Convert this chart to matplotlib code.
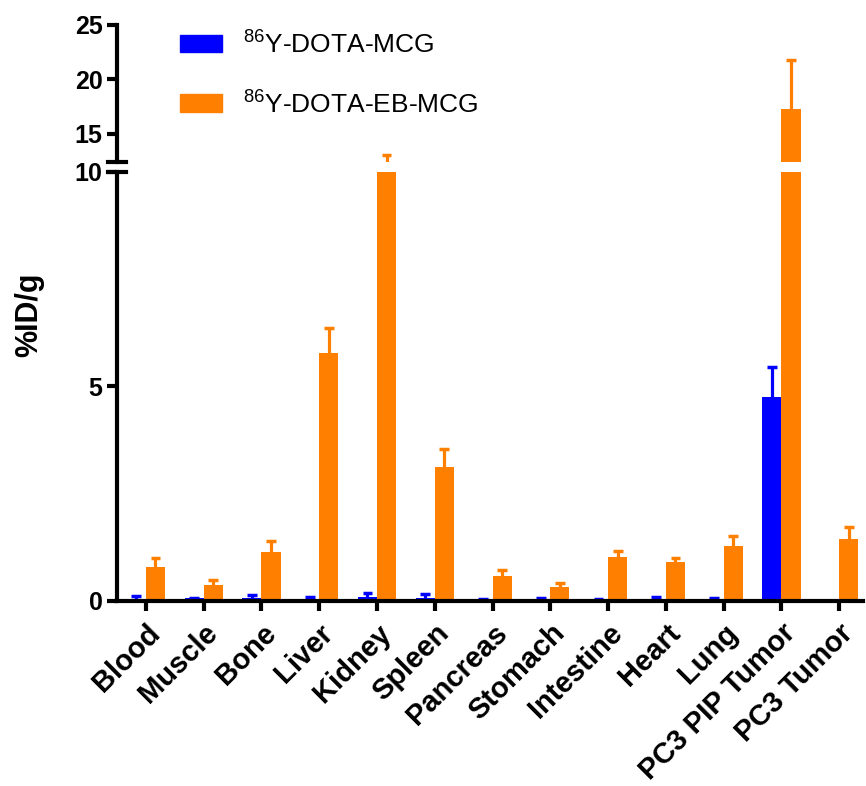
import numpy as np
import matplotlib
matplotlib.use("Agg")
import matplotlib.pyplot as plt
from matplotlib.patches import Patch
from matplotlib.lines import Line2D

plt.rcParams['font.family'] = ['Liberation Sans', 'DejaVu Sans']
plt.rcParams['mathtext.fontset'] = 'custom'
plt.rcParams['mathtext.rm'] = 'Liberation Sans'

# data (%ID/g, mean and upper SD)
organs = ['Blood', 'Muscle', 'Bone', 'Liver', 'Kidney', 'Spleen', 'Pancreas',
          'Stomach', 'Intestine', 'Heart', 'Lung', 'PC3 PIP Tumor', 'PC3 Tumor']
mcg_mean = [0.05, 0.06, 0.07, 0.03, 0.09, 0.08, 0.03, 0.04, 0.03, 0.03, 0.03, 4.75, 0.0]
mcg_err = [0.07, 0.01, 0.07, 0.06, 0.10, 0.08, 0.01, 0.03, 0.01, 0.06, 0.05, 0.70, 0.0]
eb_mean = [0.79, 0.37, 1.14, 5.78, 12.3, 3.12, 0.58, 0.33, 1.03, 0.91, 1.28, 17.3, 1.45]
eb_err = [0.21, 0.12, 0.26, 0.58, 0.75, 0.42, 0.14, 0.09, 0.14, 0.09, 0.23, 4.5, 0.28]

blue = '#0000FF'
orange = '#FF8000'

fig = plt.figure(figsize=(8.66, 7.86), dpi=100)
ax_lo = fig.add_axes([0.1351, 0.2354, 0.862, 0.5458])
ax_hi = fig.add_axes([0.1351, 0.7939, 0.862, 0.1743])

x = np.arange(len(organs))
w = 0.33
cap = 0.085


def up_err(ax, xs, mean, err, color):
    mean = np.asarray(mean)
    top = mean + np.asarray(err)
    ax.vlines(xs, mean, top, color=color, lw=2.3, zorder=1)
    ax.hlines(top, xs - cap, xs + cap, color=color, lw=2.5, zorder=1)


for ax in (ax_lo, ax_hi):
    ax.bar(x - w / 2, mcg_mean, w, color=blue, zorder=2)
    ax.bar(x + w / 2, eb_mean, w, color=orange, zorder=2)
    up_err(ax, x - w / 2, mcg_mean, mcg_err, blue)
    up_err(ax, x + w / 2, eb_mean, eb_err, orange)
    ax.set_xlim(-0.5, 12.42)
    for s in ['top', 'right']:
        ax.spines[s].set_visible(False)
    ax.spines['left'].set_linewidth(3)
    ax.spines['bottom'].set_linewidth(3)
    ax.tick_params(axis='y', width=3, length=7, labelsize=18)

ax_lo.set_ylim(0, 10)
ax_lo.set_yticks([0, 5, 10])
ax_hi.set_ylim(12.4, 25)
ax_hi.set_yticks([15, 20, 25])
ax_hi.spines['bottom'].set_visible(False)
ax_hi.set_xticks([])

ax_lo.set_xticks(x)
ax_lo.set_xticklabels(organs, rotation=45, ha='right', rotation_mode='anchor',
                      fontsize=21, fontweight='bold')
ax_lo.tick_params(axis='x', width=3, length=7, pad=6)
for ax in (ax_lo, ax_hi):
    for lab in ax.get_yticklabels():
        lab.set_fontweight('bold')

# break marks on the y axis
for ax, yv in ((ax_lo, 1.0), (ax_hi, 0.0)):
    ax.add_line(Line2D([-0.012, 0.012], [yv, yv], transform=ax.transAxes,
                       color='black', lw=3, clip_on=False))

fig.text(0.034, 0.6, '%ID/g', rotation=90, ha='center', va='center',
         fontsize=22, fontweight='bold')

handles = [Patch(color=blue), Patch(color=orange)]
fig.legend(handles, ['$^{86}$Y-DOTA-MCG', '$^{86}$Y-DOTA-EB-MCG'],
           loc='upper left', bbox_to_anchor=(0.208, 0.962), frameon=False,
           borderpad=0, borderaxespad=0,
           fontsize=19, handlelength=1.6, handleheight=0.65,
           labelspacing=1.2, handletextpad=0.8)

fig.savefig('out.png', dpi=100)
